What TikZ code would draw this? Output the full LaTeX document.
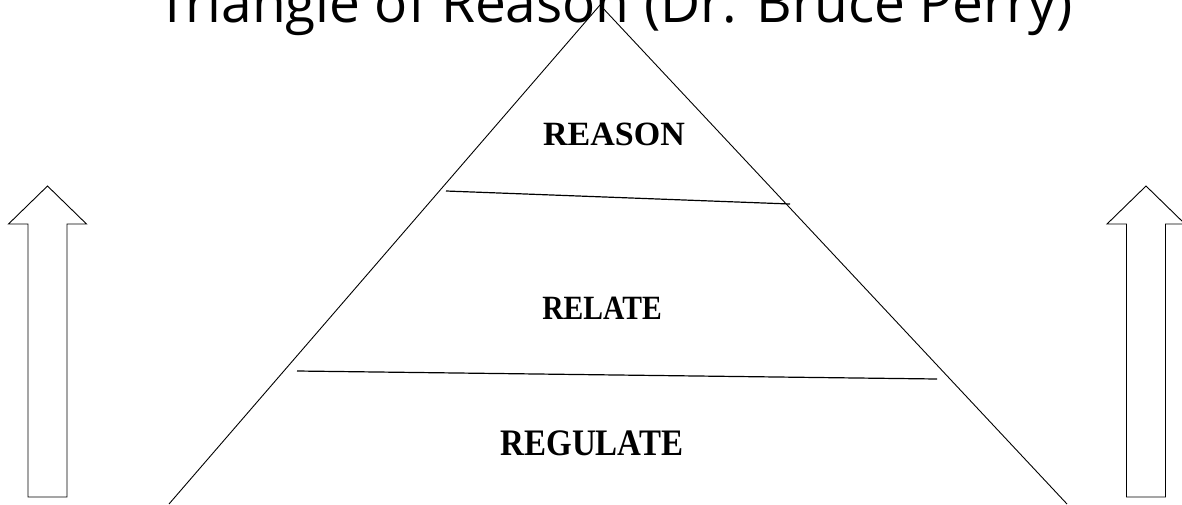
\documentclass[tikz,border=0pt]{standalone}
\usepackage{fontspec}
\setmainfont{Liberation Serif}
\newfontfamily\titlefont{Open Sans}
\usetikzlibrary{positioning}

\begin{document}
\begin{tikzpicture}[x=1pt,y=-1pt]

      \tikzstyle{layer}=[font=\fontsize{34}{40}\selectfont\bfseries,
        inner sep=0pt,anchor=center]
      \tikzstyle{bigarrow}=[draw=black,line width=0.9pt,fill=white,
        line join=miter]
      \tikzstyle{divider}=[draw=black,line width=1.2pt]

      \useasboundingbox (0,0) rectangle (1182,504);
      \clip (0,0) rectangle (1182,504);

      \node(Title)[font=\titlefont\fontsize{55}{60}\selectfont,
        anchor=base,inner sep=0pt] at (615,22)
        {Triangle of Reason (Dr. Bruce Perry)};

      % triangle
      \coordinate (Top) at (600,5);
      \coordinate (Left) at (169,504);
      \coordinate (Right) at (1067,504);
      \draw [line width=0.9pt] (Left)--(Top)--(Right);

      \coordinate (Div1a) at (446,191);
      \coordinate (Div1b) at (790,204);
      \coordinate (Div2a) at (297,371);
      \coordinate (Div2b) at (937,379);
      \path [divider] (Div1a)--(Div1b);
      \path [divider] (Div2a)--(Div2b);

      \node(Reason)[layer] at (614,134) {REASON};
      \node(Relate)[layer,xscale=0.87] at (602,308) {RELATE};
      \node(Regulate)[layer,xscale=0.97,yscale=1.1] at (592,443) {REGULATE};

      % arrows
      \foreach \ax/\name in {47.5/ArrowL,1146/ArrowR}{
        \coordinate (\name) at (\ax,186);
        \path [bigarrow] (\name) -- ++(39,38) -- ++(-19.5,0)
          -- ++(0,273) -- ++(-39,0) -- ++(0,-273)
          -- ++(-19.5,0) -- cycle;
      }

    \end{tikzpicture}
\end{document}
